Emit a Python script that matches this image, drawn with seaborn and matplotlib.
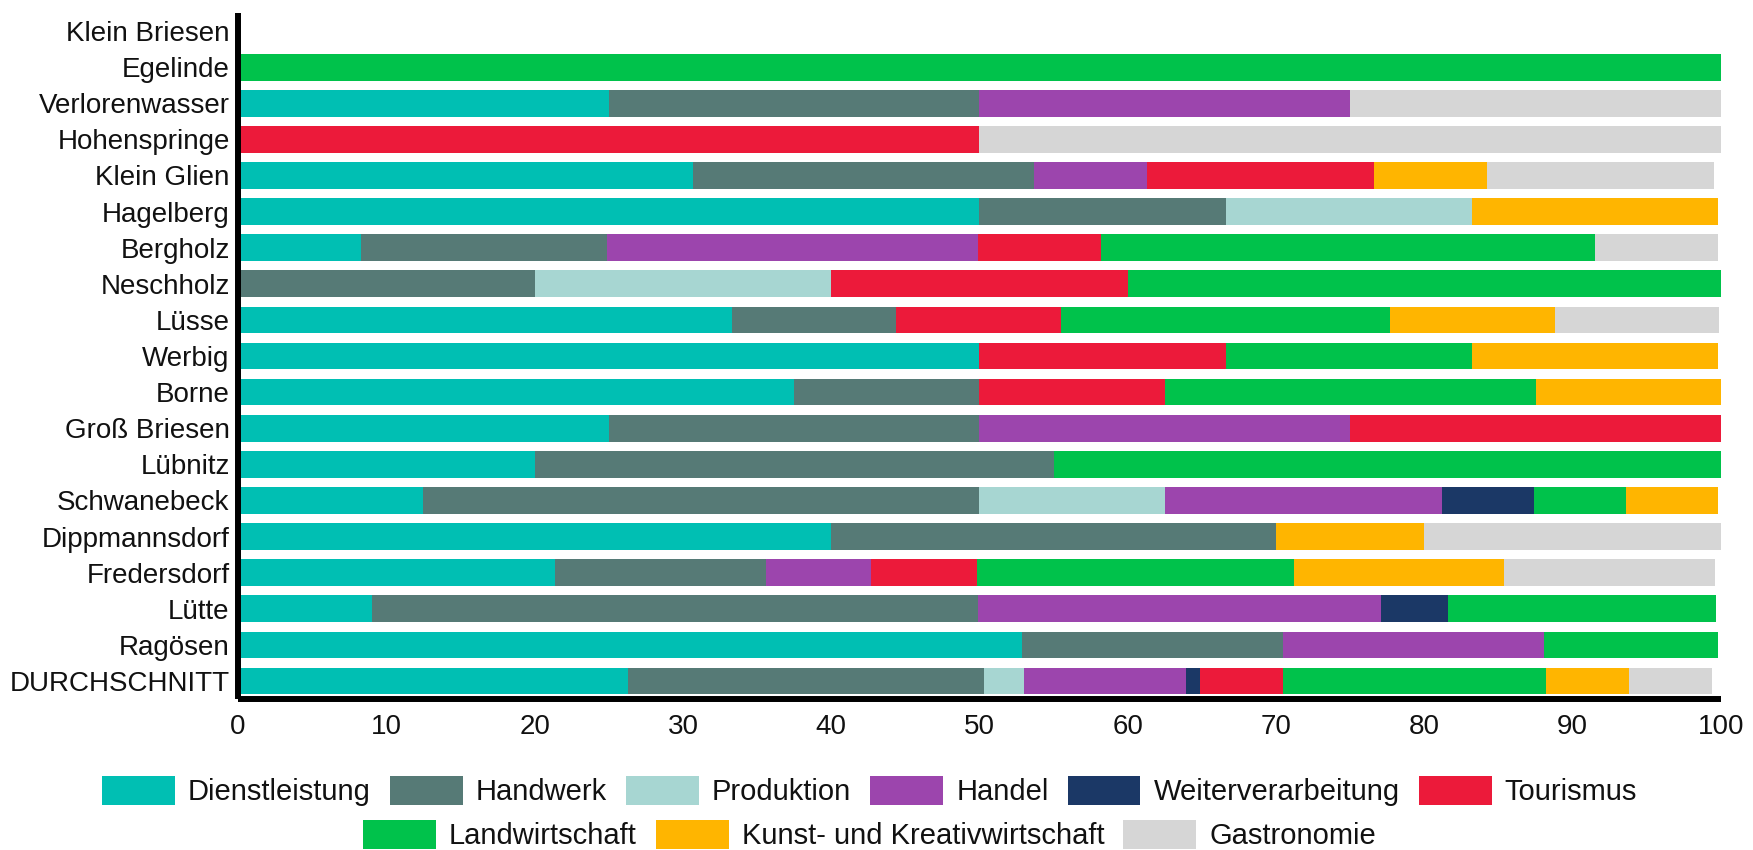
import matplotlib
matplotlib.use("Agg")
import matplotlib.pyplot as plt
import seaborn as sns
import numpy as np

# Orte (von oben nach unten)
towns = ["Klein Briesen", "Egelinde", "Verlorenwasser", "Hohenspringe", "Klein Glien",
         "Hagelberg", "Bergholz", "Neschholz", "Lüsse", "Werbig", "Borne",
         "Groß Briesen", "Lübnitz", "Schwanebeck", "Dippmannsdorf", "Fredersdorf",
         "Lütte", "Ragösen", "DURCHSCHNITT"]

sectors = ["Dienstleistung", "Handwerk", "Produktion", "Handel", "Weiterverarbeitung",
           "Tourismus", "Landwirtschaft", "Kunst- und Kreativwirtschaft", "Gastronomie"]

# Anteile in Prozent je Branche
dienstleistung     = [0, 0, 25, 0, 30.7, 50, 8.3, 0, 33.3, 50, 37.5, 25, 20, 12.5, 40, 21.4, 9.0, 52.9, 26.3]
handwerk           = [0, 0, 25, 0, 23.0, 16.6, 16.6, 20, 11.1, 0, 12.5, 25, 35, 37.5, 30, 14.2, 40.9, 17.6, 24.0]
produktion         = [0, 0, 0, 0, 0, 16.6, 0, 20, 0, 0, 0, 0, 0, 12.5, 0, 0, 0, 0, 2.7]
handel             = [0, 0, 25, 0, 7.6, 0, 25, 0, 0, 0, 0, 25, 0, 18.7, 0, 7.1, 27.2, 17.6, 10.9]
weiterverarbeitung = [0, 0, 0, 0, 0, 0, 0, 0, 0, 0, 0, 0, 0, 6.2, 0, 0, 4.5, 0, 1.0]
tourismus          = [0, 0, 0, 50, 15.3, 0, 8.3, 20, 11.1, 16.6, 12.5, 25, 0, 0, 0, 7.1, 0, 0, 5.6]
landwirtschaft     = [0, 100, 0, 0, 0, 0, 33.3, 40, 22.2, 16.6, 25, 0, 45, 6.2, 0, 21.4, 18.1, 11.7, 17.7]
kunst_kreativ      = [0, 0, 0, 0, 7.6, 16.6, 0, 0, 11.1, 16.6, 12.5, 0, 0, 6.2, 10, 14.2, 0, 0, 5.6]
gastronomie        = [0, 0, 25, 50, 15.3, 0, 8.3, 0, 11.1, 0, 0, 0, 0, 0, 20, 14.2, 0, 0, 5.6]

colors = ["#00BFB3", "#567A76", "#A7D6D2", "#9C45AD", "#1B3866",
          "#EC1A3A", "#00C24B", "#FFB500", "#D6D6D6"]

xticks = [0, 10, 20, 30, 40, 50, 60, 70, 80, 90, 100]

sns.set_theme(style="white")
plt.rcParams["font.family"] = ["Liberation Sans", "DejaVu Sans"]
plt.rcParams["text.color"] = "#111111"

fig = plt.figure(figsize=(17.53, 8.5), dpi=100)
ax = fig.add_axes([0.1358, 0.1776, 0.8459, 0.8071])

series = np.array([dienstleistung, handwerk, produktion, handel, weiterverarbeitung,
                   tourismus, landwirtschaft, kunst_kreativ, gastronomie])
cumulative = np.cumsum(series, axis=0)

# Gestapelte Balken: kumulierte Summen von hinten nach vorne übereinander zeichnen
for i in reversed(range(len(sectors))):
    sns.barplot(x=cumulative[i], y=towns, orient="h", color=colors[i], saturation=1,
                width=0.74, errorbar=None, linewidth=0, label=sectors[i], ax=ax)

if ax.get_legend() is not None:
    ax.get_legend().remove()

ax.set_xlim(0, 100)
ax.set_ylim(len(towns) - 0.5, -0.5)
ax.set_xticks(xticks)
ax.set_xlabel("")
ax.set_ylabel("")
ax.tick_params(axis="x", length=0, pad=11, labelsize=20, labelcolor="#111111")
ax.tick_params(axis="y", length=0, pad=6, labelsize=20, labelcolor="#111111")

sns.despine(ax=ax, top=True, right=True)
for side in ["left", "bottom"]:
    ax.spines[side].set_color("black")
    ax.spines[side].set_linewidth(4.3)
    ax.spines[side].set_capstyle("butt")

handles, labels = ax.get_legend_handles_labels()
lookup = dict(zip(labels, handles))
h = [lookup[s] for s in sectors]

legend_kw = dict(loc="center", frameon=False, fontsize=21, handlelength=2.5,
                 handleheight=1.15, handletextpad=0.45, columnspacing=0.65,
                 borderpad=0, borderaxespad=0)
fig.legend(h[:6], sectors[:6], ncol=6, bbox_to_anchor=(0.496, 1 - 791 / 850), **legend_kw)
fig.legend(h[6:], sectors[6:], ncol=3, bbox_to_anchor=(0.496, 1 - 835 / 850), **legend_kw)

fig.savefig("out.png", dpi=100)
